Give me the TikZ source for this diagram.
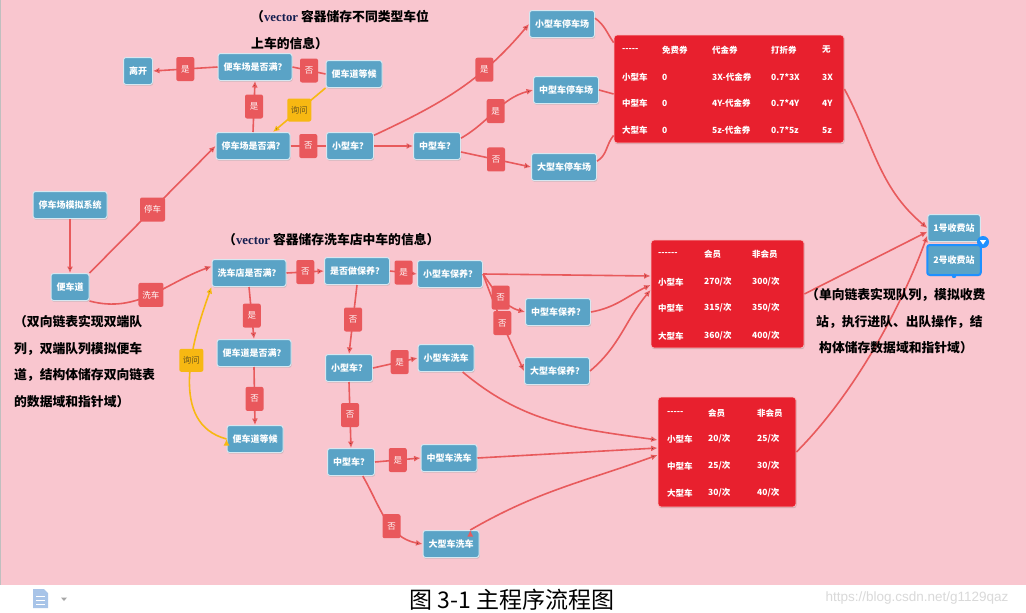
\documentclass[tikz,border=0pt]{standalone}
\usepackage{fontspec}
\setmainfont{Noto Sans CJK SC}
\newfontfamily\latinserif{Liberation Serif}
\newfontfamily\webfont{Liberation Sans}
\usetikzlibrary{arrows.meta,shadows,calc}

\definecolor{bgpink}{RGB}{249,198,207}
\definecolor{boxblue}{RGB}{90,163,198}
\definecolor{linered}{RGB}{232,90,92}
\definecolor{tagred}{RGB}{233,88,92}
\definecolor{tabred}{RGB}{232,32,46}
\definecolor{askyellow}{RGB}{247,184,18}
\definecolor{asktext}{RGB}{110,88,30}
\definecolor{selblue}{RGB}{30,144,255}
\definecolor{navy}{RGB}{20,30,80}
\definecolor{docblue}{RGB}{168,196,232}

\newcommand\dashfive{-{}-{}-{}-{}-}
\newcommand\dashsix{-{}-{}-{}-{}-{}-}

\begin{document}
\begin{tikzpicture}[x=1pt,y=1pt,
  box/.style={rectangle,rounded corners=2.5pt,fill=boxblue,draw=white!75!boxblue,line width=1pt,
    text=white,font=\fontsize{9}{10}\selectfont\bfseries,minimum height=27pt,inner xsep=5.5pt,
    drop shadow={shadow xshift=0.6pt,shadow yshift=-1.2pt,opacity=0.35}},
  tag/.style={rectangle,rounded corners=2pt,fill=tagred,text=white!92!pink,
    font=\fontsize{8.5}{9}\selectfont,minimum width=18pt,minimum height=24pt,inner sep=1pt},
  ask/.style={tag,fill=askyellow,text=asktext,minimum width=24pt,minimum height=23pt},
  tbl/.style={rectangle,rounded corners=3pt,fill=tabred,draw=white!70!tabred,line width=0.8pt,
    drop shadow={shadow xshift=0.6pt,shadow yshift=-1.2pt,opacity=0.35}},
  cell/.style={anchor=west,inner sep=0pt,text=white,font=\fontsize{8.5}{9}\selectfont\bfseries},
  note/.style={anchor=north west,inner sep=0pt,align=left,font=\fontsize{12.8}{26.5}\selectfont\bfseries},
  flow/.style={draw=linered,line width=1.6pt},
  arr/.style={flow,-{Latex[length=6.5pt,width=6pt]}},
  asked/.style={draw=askyellow,line width=1.6pt,-{Latex[length=6.5pt,width=6pt]}}
]
\useasboundingbox (0,0) rectangle (1026,-613);
\fill[bgpink] (0,0) rectangle (1026,-585);
\fill[white] (0,-585) rectangle (1026,-613);
\draw[black!25,line width=1pt] (0.5,0) -- (0.5,-585);

% parking part
\node[box] (sys) at (70,-205) {停车场模拟系统};
\node[box] (biandao) at (70,-287) {便车道};
\node[box] (leave) at (138,-71) {离开};
\node[box] (bianfull) at (255,-67) {便车场是否满？};
\node[box] (waitA) at (354,-74) {便车道等候};
\node[box] (tingfull) at (253,-146) {停车场是否满？};
\node[box] (xiaoA) at (350,-146) {小型车？};
\node[box] (zhongA) at (437,-146) {中型车？};
\node[box] (xiaoP) at (562,-24) {小型车停车场};
\node[box] (zhongP) at (566,-90) {中型车停车场};
\node[box] (daP) at (564,-167) {大型车停车场};

% washing part
\node[box] (xcfull) at (249,-273) {洗车店是否满？};
\node[box] (baoyang) at (357,-271) {是否做保养？};
\node[box] (xiaoBY) at (450,-274) {小型车保养？};
\node[box] (zhongBY) at (558,-312) {中型车保养？};
\node[box] (daBY) at (557,-371) {大型车保养？};
\node[box] (bdfull) at (254,-353) {便车道是否满？};
\node[box] (waitB) at (255,-439) {便车道等候};
\node[box] (xiaoB) at (349,-368) {小型车？};
\node[box] (xiaoXC) at (446,-358) {小型车洗车};
\node[box] (zhongB) at (351,-462) {中型车？};
\node[box] (zhongXC) at (449,-458) {中型车洗车};
\node[box] (daXC) at (451,-544) {大型车洗车};

% toll stations
\node[box] (toll1) at (954,-228) {1号收费站};
\node[box,draw=selblue,line width=2pt,minimum height=30pt,inner xsep=6pt] (toll2) at (954,-260) {2号收费站};
\node[circle,fill=selblue,minimum size=12pt,inner sep=0pt] (selmark) at (983,-242) {};
\fill[white] ($(selmark)+(-3,1.8)$) -- ($(selmark)+(3,1.8)$) -- ($(selmark)+(0,-2.5)$) -- cycle;
\fill[selblue] (toll2.south) circle (2.2);

% tables
\node[tbl,minimum width=230pt,minimum height=108pt] (tabA) at (729,-89) {};
\foreach \r/\ya/\ca/\cb/\cc/\cd/\ce in {%
    1/50/\dashfive/免费券/代金券/打折券/无,
    2/77/小型车/0/3X-代金券/0.7*3X/3X,
    3/103/中型车/0/4Y-代金券/0.7*4Y/4Y,
    4/130/大型车/0/5z-代金券/0.7*5z/5z}{
  \node[cell] (tabA-\r-1) at (622,-\ya) {\ca};
  \node[cell] (tabA-\r-2) at (662,-\ya) {\cb};
  \node[cell] (tabA-\r-3) at (712,-\ya) {\cc};
  \node[cell] (tabA-\r-4) at (771,-\ya) {\cd};
  \node[cell] (tabA-\r-5) at (822,-\ya) {\ce};
}
\node[tbl,minimum width=153pt,minimum height=108pt] (tabB) at (727.5,-294) {};
\foreach \r/\ya/\ca/\cb/\cc in {%
    1/254/\dashsix/会员/非会员,
    2/282/小型车/{270/次}/{300/次},
    3/308/中型车/{315/次}/{350/次},
    4/336/大型车/{360/次}/{400/次}}{
  \node[cell] (tabB-\r-1) at (658,-\ya) {\ca};
  \node[cell] (tabB-\r-2) at (704,-\ya) {\cb};
  \node[cell] (tabB-\r-3) at (752,-\ya) {\cc};
}
\node[tbl,minimum width=138pt,minimum height=110pt] (tabC) at (727,-452) {};
\foreach \r/\ya/\ca/\cb/\cc in {%
    1/413/\dashfive/会员/非会员,
    2/439/小型车/{20/次}/{25/次},
    3/466/中型车/{25/次}/{30/次},
    4/493/大型车/{30/次}/{40/次}}{
  \node[cell] (tabC-\r-1) at (667,-\ya) {\ca};
  \node[cell] (tabC-\r-2) at (708,-\ya) {\cb};
  \node[cell] (tabC-\r-3) at (757,-\ya) {\cc};
}

% connectors
\path[arr]
  (sys) edge (biandao)
  (biandao.north east) edge node[tag,minimum width=25pt] {停车} (tingfull.west)
  (biandao.south east) edge[out=-15,in=200] node[tag,minimum width=25pt] {洗车} (xcfull.170)
  (tingfull.north) edge node[tag] {是} (bianfull.south)
  (bianfull.west) edge node[tag] {是} (leave.east)
  (xiaoA) edge (zhongA)
  (xiaoA.24) edge[out=25,in=230] node[tag,pos=0.68] {是} (xiaoP.west)
  (zhongA.18) edge[out=30,in=195] node[tag] {是} (zhongP.west)
  (zhongA.-14) edge node[tag] {否} (daP.west)
  (tabA.east) edge[out=-62,in=140] (toll1.west)
  (tabB.east) edge (toll1.188)
  (tabC.east) edge[out=45,in=250,looseness=0.8] (toll1.196)
  (xcfull.east) edge node[tag] {否} (baoyang.west)
  (xcfull.south) edge node[tag,pos=0.55] {是} (bdfull.north)
  (bdfull.south) edge node[tag,pos=0.55] {否} (waitB.north)
  (baoyang.east) edge node[tag] {是} (xiaoBY.west)
  (baoyang.south) edge node[tag] {否} (xiaoB.north)
  (xiaoBY.east) edge[out=-55,in=165] node[tag] {否} (zhongBY.west)
  (xiaoBY.east) edge[out=-70,in=115] node[tag] {否} (daBY.west)
  (xiaoBY.east) edge ($(tabB.west)+(0,18)$)
  (zhongBY.east) edge[out=10,in=205] ($(tabB.west)+(0,9)$)
  (daBY.east) edge[out=40,in=230] ($(tabB.west)+(0,4)$)
  (xiaoB.east) edge node[tag,pos=0.6] {是} (xiaoXC.west)
  (xiaoB.south) edge node[tag] {否} (zhongB.north)
  (zhongB.east) edge node[tag] {是} (zhongXC.west)
  (zhongB.-50) edge[out=-60,in=170] node[tag,pos=0.6] {否} (daXC.west)
  (xiaoXC.-40) edge[out=-40,in=172] ($(tabC.west)+(0,12)$)
  (zhongXC.east) edge ($(tabC.west)+(0,4)$)
  (daXC.36) edge[out=30,in=200] ($(tabC.west)+(0,-3)$);
\path[flow]
  (bianfull.east) edge node[tag] {否} (waitA.west)
  (tingfull.east) edge node[tag] {否} (xiaoA.west)
  (xiaoP.10) edge[out=-35,in=125] ($(tabA.north west)+(0,-8)$)
  (zhongP.east) edge ($(tabA.west)+(0,-5)$)
  (daP.10) edge[out=30,in=230] ($(tabA.south west)+(0,8)$);
\path[asked]
  (waitA.south west) edge node[ask] {询问} (tingfull.35)
  (waitB.west) edge[out=165,in=250] node[ask,pos=0.6] {询问} (xcfull.south west);

% notes
\node[note] (noteA) at (251,-10.5) {（{\latinserif\bfseries\color{navy}vector} 容器储存不同类型车位\\上车的信息）};
\node[note] (noteB) at (223,-233.5) {（{\latinserif\bfseries\color{navy}vector} 容器储存洗车店中车的信息）};
\node[note] (noteC) at (14,-315.5) {（双向链表实现双端队\\列，双端队列模拟便车\\道，结构体储存双向链表\\的数据域和指针域）};
\node[note] (noteD) at (806,-288.5) {（单向链表实现队列，模拟收费\\\hspace*{10pt}站，执行进队、出队操作，结\\\hspace*{13pt}构体储存数据域和指针域）};

% caption line
\fill[docblue] (33,-589) -- (44,-589) -- (48,-593) -- (48,-608) -- (33,-608) -- cycle;
\foreach \yy in {596,600,604} \draw[white,line width=1pt] (36,-\yy) -- (45,-\yy);
\fill[black!35] (61,-597.5) -- (67,-597.5) -- (64,-601) -- cycle;
\node[font=\fontsize{23}{23}\selectfont] (caption) at (512,-600) {图 3-1 主程序流程图};
\node[font=\webfont\fontsize{13.5}{14}\selectfont,text=black!15] (mark) at (917,-598) {https://blog.csdn.net/g1129qaz};
\end{tikzpicture}
\end{document}
